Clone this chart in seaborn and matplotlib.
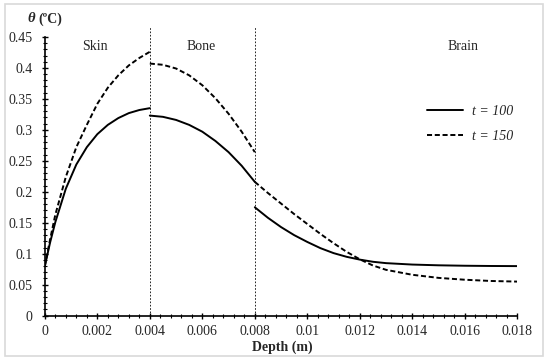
import pandas as pd
import matplotlib
matplotlib.use('Agg')
import matplotlib.pyplot as plt
import seaborn as sns
from matplotlib.lines import Line2D
from matplotlib.patches import Rectangle
from matplotlib.ticker import FuncFormatter, MultipleLocator

# Datos
skin_x = [0, 0.0002, 0.0004, 0.0008, 0.0012, 0.0016, 0.002, 0.0024, 0.0028, 0.0032, 0.0036, 0.004]
skin_t100 = [0.080, 0.118, 0.151, 0.205, 0.244, 0.272, 0.293, 0.308, 0.319, 0.327, 0.332, 0.335]
skin_t150 = [0.080, 0.123, 0.163, 0.224, 0.272, 0.308, 0.342, 0.368, 0.388, 0.404, 0.416, 0.426]

bone_x = [0.004, 0.0045, 0.005, 0.0055, 0.006, 0.0065, 0.007, 0.0075, 0.008]
bone_t100 = [0.323, 0.321, 0.316, 0.308, 0.297, 0.282, 0.264, 0.242, 0.216]
bone_t150 = [0.407, 0.405, 0.399, 0.388, 0.372, 0.351, 0.326, 0.297, 0.264]

brain_x = [0.008, 0.0085, 0.009, 0.0095, 0.01, 0.0105, 0.011, 0.0115, 0.012,
           0.0125, 0.013, 0.014, 0.015, 0.016, 0.017, 0.018]
brain_t100 = [0.175, 0.158, 0.143, 0.130, 0.119, 0.109, 0.101, 0.095, 0.0905,
              0.087, 0.0848, 0.0825, 0.0813, 0.0806, 0.0802, 0.080]
brain_t150 = [0.216, 0.198, 0.181, 0.164, 0.148, 0.132, 0.117, 0.103, 0.091,
              0.081, 0.074, 0.066, 0.061, 0.058, 0.056, 0.055]

layers = ['Skin', 'Bone', 'Brain']
layer_label_x = [0.00192, 0.00596, 0.01594]
boundaries = [0.004, 0.008]
x_ticks = [0, 0.002, 0.004, 0.006, 0.008, 0.01, 0.012, 0.014, 0.016, 0.018]
y_ticks = [0, 0.05, 0.1, 0.15, 0.2, 0.25, 0.3, 0.35, 0.4, 0.45]

rows = []
for seg, xs, a, b in [('skin', skin_x, skin_t100, skin_t150),
                      ('bone', bone_x, bone_t100, bone_t150),
                      ('brain', brain_x, brain_t100, brain_t150)]:
    for x, v in zip(xs, a):
        rows.append({'depth': x, 'theta': v, 'serie': 't = 100', 'seg': seg})
    for x, v in zip(xs, b):
        rows.append({'depth': x, 'theta': v, 'serie': 't = 150', 'seg': seg})
data = pd.DataFrame(rows)

sns.set_style('ticks')
plt.rcParams['font.family'] = ['Liberation Serif', 'DejaVu Serif']

fig = plt.figure(figsize=(5.5, 3.62), dpi=100)
ax = fig.add_axes([0.0815, 0.128, 0.859, 0.77])

dash = (0, (2.6, 1.4))
for (serie, seg), d in data.groupby(['serie', 'seg']):
    sns.lineplot(data=d, x='depth', y='theta', ax=ax, color='black', lw=1.4,
                 legend=False, estimator=None, sort=False,
                 linestyle='-' if serie == 't = 100' else dash)

for b in boundaries:
    ax.plot([b, b], [0, 0.466], color='black', lw=0.6, linestyle=(0, (2, 2)), clip_on=False)

ax.set_xlim(0, 0.018)
ax.set_ylim(0, 0.45)
ax.set_xticks(x_ticks)
ax.set_yticks(y_ticks)
ax.xaxis.set_minor_locator(MultipleLocator(0.0004))
ax.yaxis.set_minor_locator(MultipleLocator(0.01))
fmt = FuncFormatter(lambda v, p: '{:g}'.format(round(v, 4)))
ax.xaxis.set_major_formatter(fmt)
ax.yaxis.set_major_formatter(fmt)
ax.tick_params(which='major', direction='inout', length=4.5, width=1, labelsize=10, color='black')
ax.tick_params(which='minor', direction='inout', length=2.5, width=0.8, color='black')
ax.tick_params(axis='x', which='major', pad=4.5)
ax.tick_params(axis='y', which='major', pad=6.5)
sns.despine(ax=ax)
for s in ['left', 'bottom']:
    ax.spines[s].set_linewidth(1.2)
    ax.spines[s].set_color('black')
ax.set_xlabel('')
ax.set_ylabel('')

for name, lx in zip(layers, layer_label_x):
    ax.text(lx, 0.435, name, ha='center', va='center', fontsize=10)

fig.text(282 / 550, 1 - 347 / 362, 'Depth (m)', ha='center', va='center',
         fontsize=10, fontweight='bold')
fig.text(27 / 550, 1 - 19 / 362, '\u03b8', ha='left', va='center',
         fontsize=10.5, fontweight='bold', fontstyle='italic')
fig.text(38 / 550, 1 - 19 / 362, '(\u00baC)', ha='left', va='center',
         fontsize=10, fontweight='bold')

handles = [Line2D([], [], color='black', lw=1.4),
           Line2D([], [], color='black', lw=1.4, linestyle=dash)]
leg = ax.legend(handles, ['t = 100', 't = 150'], loc='upper left',
                bbox_to_anchor=(0.8095, 0.755), frameon=False, handlelength=2.6,
                labelspacing=0.85, borderpad=0, borderaxespad=0, handletextpad=0.6,
                prop={'family': 'Liberation Serif', 'style': 'italic', 'size': 10})

fig.patches.append(Rectangle((5 / 550, 1 - 356 / 362), 538 / 550, 352 / 362,
                             transform=fig.transFigure, fill=False,
                             edgecolor='#d9d9d9', lw=1.2))

plt.savefig('out.png', dpi=100)
